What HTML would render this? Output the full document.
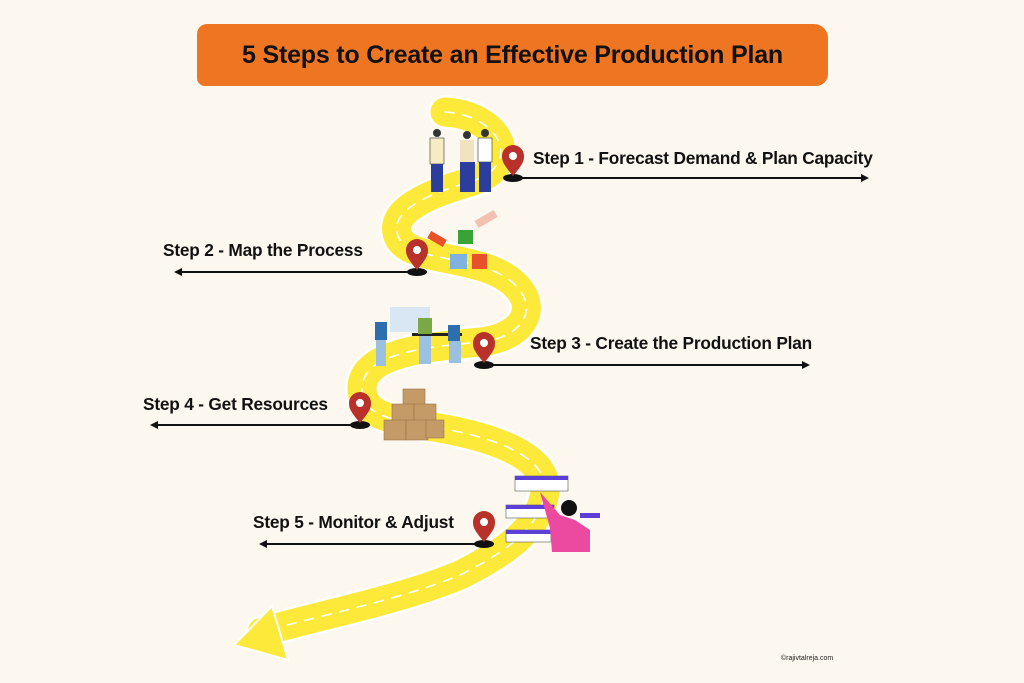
<!DOCTYPE html>
<html><head><meta charset="utf-8"><style>
body{margin:0;width:1024px;height:683px;background:#fdf8ef;overflow:hidden;position:relative;font-family:"Liberation Sans",sans-serif}
.t{position:absolute;left:197px;top:24px;width:631px;height:62px;background:#ee7623;border-radius:10px 14px 12px 8px;display:flex;align-items:center;justify-content:center;font-weight:bold;font-size:25px;color:#111;letter-spacing:-0.2px}
.l{position:absolute;font-weight:bold;font-size:17.3px;color:#111;white-space:nowrap;letter-spacing:-0.2px}
</style></head><body>
<div class="t">5 Steps to Create an Effective Production Plan</div>
<svg width="1024" height="683" style="position:absolute;left:0;top:0">
<defs>
<g id="pin"><path d="M0,0 C-10,-12 -11,-15 -11,-20 A11,11 0 1 1 11,-20 C11,-15 10,-12 0,0Z" fill="#b8312a"/><circle cx="0" cy="-20" r="4" fill="#fff"/></g>
</defs>
<g fill="none" stroke-linecap="round" stroke-linejoin="round">
<path d="M445 112 C500 115,525 165,470 182 C420 196,385 215,400 240 C415 262,480 255,512 282 C542 308,522 338,480 342 C430 347,360 352,362 390 C364 420,400 420,450 430 C510 442,548 462,545 492 C540 530,500 555,460 575 C400 600,320 615,262 632" stroke="#fff" stroke-width="34"/>
<path d="M445 112 C500 115,525 165,470 182 C420 196,385 215,400 240 C415 262,480 255,512 282 C542 308,522 338,480 342 C430 347,360 352,362 390 C364 420,400 420,450 430 C510 442,548 462,545 492 C540 530,500 555,460 575 C400 600,320 615,262 632" stroke="#fde93a" stroke-width="29"/>
<path d="M445 112 C500 115,525 165,470 182 C420 196,385 215,400 240 C415 262,480 255,512 282 C542 308,522 338,480 342 C430 347,360 352,362 390 C364 420,400 420,450 430 C510 442,548 462,545 492 C540 530,500 555,460 575 C400 600,320 615,262 632" stroke="#fff" stroke-width="1.6" stroke-dasharray="9 9"/>
</g>
<path d="M272 606 L234 645 L288 660 Z" fill="#fde93a" stroke="#fff" stroke-width="2"/>
<g stroke="#111" stroke-width="2">
<line x1="513" y1="178" x2="864" y2="178"/><line x1="180" y1="272" x2="417" y2="272"/>
<line x1="484" y1="365" x2="804" y2="365"/><line x1="156" y1="425" x2="360" y2="425"/>
<line x1="265" y1="544" x2="484" y2="544"/></g>
<g fill="#111"><path d="M869 178 l-8 -4 v8z"/><path d="M174 272 l8 -4 v8z"/><path d="M810 365 l-8 -4 v8z"/><path d="M150 425 l8 -4 v8z"/><path d="M259 544 l8 -4 v8z"/></g>
<g fill="#111"><ellipse cx="513" cy="178" rx="10" ry="4"/><ellipse cx="417" cy="272" rx="10" ry="4"/><ellipse cx="484" cy="365" rx="10" ry="4"/><ellipse cx="360" cy="425" rx="10" ry="4"/><ellipse cx="484" cy="544" rx="10" ry="4"/></g>
<use href="#pin" x="513" y="176"/><use href="#pin" x="417" y="270"/><use href="#pin" x="484" y="363"/><use href="#pin" x="360" y="423"/><use href="#pin" x="484" y="542"/>
<g><rect x="430" y="138" width="14" height="26" fill="#f6ebc2" stroke="#333" stroke-width=".6"/><rect x="431" y="164" width="12" height="28" fill="#2b3e9e"/><circle cx="437" cy="133" r="4" fill="#333"/>
<rect x="460" y="140" width="14" height="22" fill="#f2e3c0"/><rect x="460" y="162" width="15" height="30" fill="#2b3e9e"/><circle cx="467" cy="135" r="4" fill="#333"/>
<rect x="478" y="138" width="14" height="24" fill="#fff" stroke="#333" stroke-width=".6"/><rect x="479" y="162" width="12" height="30" fill="#2b3e9e"/><circle cx="485" cy="133" r="4" fill="#333"/></g>
<rect x="428" y="235" width="18" height="8" fill="#e8522a" transform="rotate(30 437 239)"/><rect x="458" y="230" width="15" height="14" fill="#3aa335"/><rect x="475" y="215" width="22" height="8" fill="#f2c1b0" transform="rotate(-30 486 219)"/>
<rect x="450" y="254" width="17" height="15" fill="#7fb3dd"/><rect x="472" y="254" width="15" height="15" fill="#e8522a"/>
<rect x="390" y="307" width="40" height="25" fill="#d9e7f5"/><rect x="412" y="333" width="50" height="3" fill="#222"/>
<rect x="375" y="322" width="12" height="18" fill="#2d6fae"/><rect x="376" y="340" width="10" height="26" fill="#9cc0e0"/>
<rect x="418" y="318" width="14" height="16" fill="#7aa846"/><rect x="419" y="336" width="12" height="28" fill="#9cc0e0"/>
<rect x="448" y="325" width="12" height="16" fill="#2d6fae"/><rect x="449" y="341" width="12" height="22" fill="#9cc0e0"/>
<g fill="#c49a66" stroke="#9b7446" stroke-width=".6"><rect x="403" y="389" width="22" height="18"/><rect x="392" y="404" width="22" height="18"/><rect x="414" y="404" width="22" height="18"/><rect x="384" y="420" width="22" height="20"/><rect x="406" y="420" width="22" height="20"/><rect x="426" y="420" width="18" height="18"/></g>
<g><rect x="515" y="476" width="53" height="15" fill="#fff" stroke="#555" stroke-width=".6"/><rect x="515" y="476" width="53" height="4" fill="#5b3fd6"/>
<rect x="506" y="505" width="48" height="13" fill="#fff" stroke="#555" stroke-width=".6"/><rect x="506" y="505" width="48" height="4" fill="#5b3fd6"/>
<rect x="506" y="530" width="45" height="12" fill="#fff" stroke="#555" stroke-width=".6"/><rect x="506" y="530" width="45" height="4" fill="#5b3fd6"/>
<rect x="580" y="513" width="20" height="5" fill="#5b3fd6"/>
<path d="M540 492 L560 515 L575 520 L590 530 L590 552 L552 552 L550 528 Z" fill="#ec4aa0"/><circle cx="569" cy="508" r="8" fill="#111"/></g>
</svg>
<div class="l" style="left:533px;top:148px">Step 1 - Forecast Demand &amp; Plan Capacity</div>
<div class="l" style="left:163px;top:240px">Step 2 - Map the Process</div>
<div class="l" style="left:530px;top:333px">Step 3 - Create the Production Plan</div>
<div class="l" style="left:143px;top:394px">Step 4 - Get Resources</div>
<div class="l" style="left:253px;top:512px">Step 5 - Monitor &amp; Adjust</div>
<div style="position:absolute;left:781px;top:655px;font-size:7px;color:#222">©rajivtalreja.com</div>
</body></html>
